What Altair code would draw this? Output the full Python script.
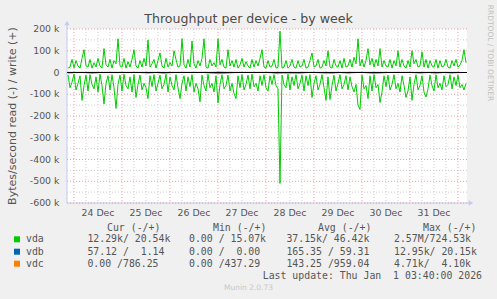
import altair as alt
import pandas as pd

# ---------------- data (kB/s) ----------------
# vda, hourly samples starting 2025-12-23 21:00 UTC
vda_write_k = [
    20, 25, 60, 22, 55, 30, 20, 65, 105, 30, 25, 60, 20, 45, 25, 65, 30, 20, 110, 35,
    25, 60, 20, 55, 40, 155, 30, 25, 65, 20, 50, 25, 60, 105, 30, 20, 55, 25, 65, 30,
    150, 25, 40, 60, 20, 55, 90, 30, 20, 65, 25, 45, 30, 100, 60, 25, 30, 155, 35, 20,
    60, 25, 145, 40, 20, 55, 30, 65, 155, 25, 20, 60, 30, 45, 25, 155, 35, 60, 25, 20,
    105, 30, 55, 25, 60, 20, 35, 65, 25, 50, 30, 20, 60, 25, 55, 30, 65, 105, 25, 20,
    55, 25, 30, 60, 20, 25, 190, 20, 25, 55, 20, 30, 60, 25, 20, 55, 25, 30, 60, 20,
    25, 55, 90, 25, 30, 60, 20, 25, 55, 30, 100, 25, 20, 60, 30, 25, 55, 20, 65, 25,
    30, 60, 25, 70, 40, 155, 30, 60, 25, 55, 110, 35, 65, 25, 60, 30, 110, 25, 55, 30,
    25, 60, 20, 55, 30, 100, 25, 60, 30, 20, 55, 25, 100, 40, 60, 25, 30, 95, 25, 60,
    20, 55, 30, 25, 60, 20, 55, 25, 30, 60, 25, 20, 55, 30, 60, 25, 35, 55, 105, 45,
]
vda_read_k = [
    10, 70, 45, 8, 80, 50, 15, 128, 60, 12, 85, 10, 55, 75, 20, 90, 8, 60, 145, 50,
    15, 80, 10, 70, 165, 55, 12, 85, 8, 60, 75, 20, 90, 10, 115, 55, 12, 80, 50, 70,
    120, 15, 65, 10, 85, 50, 12, 75, 55, 8, 90, 20, 60, 80, 10, 70, 120, 50, 15, 85,
    20, 65, 10, 90, 50, 75, 135, 12, 60, 85, 8, 70, 50, 90, 15, 140, 55, 10, 75, 60,
    12, 85, 50, 96, 120, 15, 70, 10, 80, 55, 12, 75, 8, 65, 50, 85, 15, 60, 10, 70,
    86, 15, 55, 10, 60, 75, 510, 12, 55, 70, 8, 80, 20, 60, 10, 75, 50, 12, 85, 15,
    60, 10, 115, 50, 15, 80, 55, 10, 70, 128, 20, 124, 60, 12, 85, 50, 10, 75, 55, 15,
    80, 20, 65, 90, 55, 150, 170, 12, 75, 60, 120, 15, 85, 10, 70, 55, 138, 90, 15, 65,
    12, 80, 55, 10, 75, 50, 90, 15, 60, 115, 85, 20, 128, 55, 10, 80, 60, 15, 90, 113,
    75, 12, 60, 85, 10, 70, 50, 80, 15, 65, 55, 10, 75, 20, 60, 12, 70, 55, 80, 50,
]
# vdb / vdc, 4-hourly samples starting 2025-12-23 21:00 UTC
vdb_write_k = [0.05, 0.06, 0.05, 0.04, 0.07, 0.05, 0.06, 0.05, 0.05, 0.08,
               0.05, 0.04, 0.06, 0.05, 0.05, 0.07, 0.05, 0.06, 0.05, 1.20,
               0.05, 0.06, 0.05, 0.04, 0.05, 0.06, 0.05, 0.05, 0.07, 0.05,
               0.06, 0.05, 0.04, 0.05, 0.06, 0.05, 0.07, 0.05, 0.05, 0.06,
               0.05, 0.04, 0.05, 0.06, 0.05, 0.05, 0.07, 0.05, 0.06, 0.05]
vdb_read_k = [0.10, 0.15, 0.20, 0.10, 0.12, 0.10, 0.30, 0.10, 0.15, 0.20,
              0.10, 0.12, 0.10, 0.20, 0.10, 0.15, 0.10, 0.20, 0.10, 4.50,
              0.10, 0.20, 0.10, 0.12, 0.10, 0.15, 0.20, 0.10, 0.12, 0.10,
              0.10, 0.15, 0.20, 0.10, 0.12, 0.10, 0.10, 0.20, 0.10, 0.15,
              0.10, 0.12, 0.10, 0.20, 0.10, 0.15, 0.10, 0.20, 0.10, 0.12]
vdc_write_k = [0.90, 0.85, 1.00, 0.95, 0.80, 0.90, 1.05, 0.95, 0.85, 0.90,
               1.00, 0.95, 0.90, 0.85, 1.00, 0.95, 0.90, 1.10, 0.95, 0.90,
               0.85, 1.00, 0.95, 0.90, 0.85, 0.95, 1.00, 0.90, 0.95, 0.85,
               0.90, 1.00, 0.95, 0.90, 0.85, 0.95, 1.05, 0.90, 0.95, 0.85,
               0.90, 1.00, 0.95, 0.90, 0.85, 0.95, 1.00, 0.90, 0.80, 0.79]
vdc_read_k = [3.5, 0.0, 0.0, 4.0, 0.0, 0.0, 0.0, 0.0, 0.0, 0.0,
              3.0, 0.0, 4.5, 0.0, 0.0, 0.0, 0.0, 0.0, 3.5, 4.0,
              3.0, 0.0, 0.0, 0.0, 0.0, 0.0, 4.5, 3.0, 3.5, 4.0,
              0.0, 0.0, 3.0, 4.0, 0.0, 3.5, 0.0, 0.0, 4.5, 3.0,
              0.0, 0.0, 0.0, 0.0, 3.5, 0.0, 4.0, 0.0, 3.0, 0.0]

y_tick_values = [200000, 100000, 0, -100000, -200000, -300000, -400000, -500000, -600000]
y_tick_labels = ["200 k", "100 k", "0", "-100 k", "-200 k", "-300 k", "-400 k", "-500 k", "-600 k"]
y_minor_values = [150000, 50000, -50000, -150000, -250000, -350000, -450000, -550000]
day_labels = ["24 Dec", "25 Dec", "26 Dec", "27 Dec", "28 Dec", "29 Dec", "30 Dec", "31 Dec"]

devices = ["vda", "vdb", "vdc"]
dev_colors = ["#00cc00", "#0066b3", "#ff8000"]
cur_col = [" 12.29k/ 20.54k", " 57.12 /  1.14 ", "  0.00 /786.25 "]
min_col = ["  0.00 / 15.07k", "  0.00 /  0.00 ", "  0.00 /437.29 "]
avg_col = [" 37.15k/ 46.42k", "165.35 / 59.31 ", "143.25 /959.04 "]
max_col = ["  2.57M/724.53k", " 12.95k/ 20.15k", "  4.71k/  4.10k"]
headers = ["Cur (-/+)", "Min (-/+)", "Avg (-/+)", "Max (-/+)"]
last_update = "Last update: Thu Jan  1 03:40:00 2026"

# ---------------- helpers ----------------
W, H = 400, 174
start = pd.Timestamp("2025-12-23 21:00")


def iso(ts):
    return ts.strftime("%Y-%m-%dT%H:%M:%SZ")


xs = alt.Scale(type="utc", domain=[
    alt.DateTime(year=2025, month=12, date=23, hours=20, minutes=30, utc=True),
    alt.DateTime(year=2026, month=1, date=1, hours=4, minutes=30, utc=True)])
ys = alt.Scale(domain=[-600000, 200000], nice=False, zero=False)
X = lambda: alt.X("t:T", scale=xs, axis=None)
Y = lambda: alt.Y("v:Q", scale=ys, axis=None)


def series_df(values_k, step_h, sign):
    return pd.DataFrame({
        "t": [iso(start + pd.Timedelta(hours=step_h * i)) for i in range(len(values_k))],
        "v": [sign * v * 1000 for v in values_k]})


def line(df, color):
    return alt.Chart(df).mark_line(color=color, strokeWidth=1, clip=True).encode(x=X(), y=Y())


NB = "\u00a0"
AXIS_C = "#c4caf2"
TXT_C = "#555555"
MONO = "DejaVu Sans Mono"
SANS = "DejaVu Sans"


def text(s, x, y, size=9.85, font=MONO, color=TXT_C, align="left", baseline="middle", angle=0):
    return alt.Chart(pd.DataFrame({"s": [s.replace(" ", NB)]})).mark_text(
        font=font, fontSize=size, color=color, align=align, baseline=baseline, angle=angle
    ).encode(text="s:N", x=alt.value(x), y=alt.value(y))


dummy = pd.DataFrame({"a": [0]})
layers = []

# axis lines and arrows
layers.append(alt.Chart(dummy).mark_rule(color=AXIS_C, strokeWidth=1).encode(
    x=alt.value(0), y=alt.value(-5), y2=alt.value(H)))
layers.append(alt.Chart(dummy).mark_rule(color=AXIS_C, strokeWidth=1).encode(
    x=alt.value(0), x2=alt.value(W + 3), y=alt.value(H)))
layers.append(alt.Chart(dummy).mark_point(shape="triangle-up", filled=True, size=28, color=AXIS_C, opacity=1).encode(
    x=alt.value(0), y=alt.value(-6)))
layers.append(alt.Chart(dummy).mark_point(shape="triangle-right", filled=True, size=28, color=AXIS_C, opacity=1).encode(
    x=alt.value(W + 4), y=alt.value(H)))

# grids
six_h = pd.date_range("2025-12-24 00:00", "2026-01-01 00:00", freq="6h")
minor_t = [iso(t) for t in six_h if t.hour != 0]
major_t = [iso(t) for t in six_h if t.hour == 0]
layers.append(alt.Chart(pd.DataFrame({"t": minor_t})).mark_rule(color="#cfcfcf", strokeDash=[1, 2], strokeWidth=1).encode(
    x=X(), y=alt.value(0), y2=alt.value(H)))
layers.append(alt.Chart(pd.DataFrame({"v": y_minor_values})).mark_rule(color="#cfcfcf", strokeDash=[1, 2], strokeWidth=1).encode(
    y=Y(), x=alt.value(0), x2=alt.value(W)))
layers.append(alt.Chart(pd.DataFrame({"t": major_t})).mark_rule(color="#eba0a0", strokeDash=[1, 2], strokeWidth=1).encode(
    x=X(), y=alt.value(0), y2=alt.value(H)))
layers.append(alt.Chart(pd.DataFrame({"v": y_tick_values})).mark_rule(color="#eba0a0", strokeDash=[1, 2], strokeWidth=1).encode(
    y=Y(), x=alt.value(0), x2=alt.value(W)))

# data lines
layers.append(line(series_df(vda_write_k, 1, 1), dev_colors[0]))
layers.append(line(series_df(vda_read_k, 1, -1), dev_colors[0]))
layers.append(line(series_df(vdb_write_k, 4, 1), dev_colors[1]))
layers.append(line(series_df(vdb_read_k, 4, -1), dev_colors[1]))
layers.append(line(series_df(vdc_write_k, 4, 1), dev_colors[2]))
layers.append(line(series_df(vdc_read_k, 4, -1), dev_colors[2]))

# zero line
layers.append(alt.Chart(pd.DataFrame({"v": [0]})).mark_rule(color="#000000", strokeWidth=1).encode(
    y=Y(), x=alt.value(0), x2=alt.value(W)))

# tick labels
layers.append(alt.Chart(pd.DataFrame({"v": y_tick_values, "lab": y_tick_labels})).mark_text(
    font=SANS, fontSize=9.4, color=TXT_C, align="right", baseline="middle").encode(
    y=Y(), x=alt.value(-7.5), text="lab:N"))
noon_t = [iso(pd.Timestamp("2025-12-24 12:00") + pd.Timedelta(days=i)) for i in range(len(day_labels))]
layers.append(alt.Chart(pd.DataFrame({"t": noon_t, "lab": [d.replace(" ", NB) for d in day_labels]})).mark_text(
    font=SANS, fontSize=9.4, color=TXT_C, align="center", baseline="alphabetic").encode(
    x=X(), y=alt.value(187), text="lab:N"))

# titles
layers.append(text("Throughput per device - by week", 181.5, -6, size=12.6, font=SANS, color="#4a4a4a",
                   align="center", baseline="alphabetic"))
layers.append(text("Bytes/second read (-) / write (+)", -54, 87, size=11, font=SANS, color=TXT_C,
                   align="center", baseline="middle", angle=270))
layers.append(text("RRDTOOL / TOBI OETIKER", 423, 24, size=7.5, font=SANS, color="#c0c0c0",
                   align="center", baseline="middle", angle=90))

# legend
for hx, h in zip([40, 146, 251, 356], headers):
    layers.append(text(h, hx, 198.5))
row_y = [210.3, 222.7, 234.7]
for i, dev in enumerate(devices):
    ry = row_y[i]
    layers.append(alt.Chart(dummy).mark_square(size=36, color=dev_colors[i], opacity=1).encode(
        x=alt.value(-50), y=alt.value(ry)))
    layers.append(text(dev, -41, ry))
    layers.append(text(cur_col[i], 20.4, ry))
    layers.append(text(min_col[i], 122, ry))
    layers.append(text(avg_col[i], 219.4, ry))
    layers.append(text(max_col[i], 327, ry))
layers.append(text(last_update, 415, 246.7, align="right"))
layers.append(text("Munin 2.0.73", 181.5, 259.3, size=7.5, font=SANS, color="#c8c8c8", align="center"))

chart = alt.layer(*layers).properties(
    width=W, height=H,
    padding={"left": 67, "top": 29, "right": 30, "bottom": 96},
    autosize=alt.AutoSizeParams(type="none"),
    background="#f0f0f0",
).configure_view(fill="white", stroke=None)

chart.save("out.html", embed_options={"renderer": "svg", "actions": False})
